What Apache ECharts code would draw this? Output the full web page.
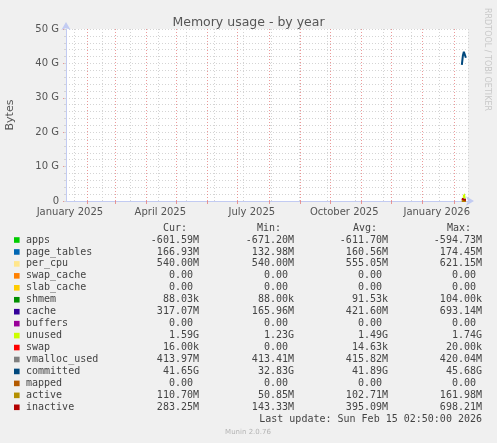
<!DOCTYPE html>
<html>
<head>
<meta charset="utf-8">
<script src="https://cdn.jsdelivr.net/npm/echarts@6.0.0/dist/echarts.min.js"></script>
<style>
  html, body { margin: 0; padding: 0; background: #f0f0f0; }
  #chart { width: 497px; height: 443px; }
</style>
</head>
<body>
<div id="chart"></div>
<script>
// days with data (the graph spans ~400 days, data only at the very end)
const dates = ['2026-02-09', '2026-02-10', '2026-02-11', '2026-02-12', '2026-02-13'];

// values in G
const apps = [null, -0.64, -0.61, -0.595, -0.60];
const pageTables = [null, 0.14, 0.17, 0.16, 0.167];
const perCpu = [null, 0.62, 0.54, 0.56, 0.54];
const swapCache = [null, 0, 0, 0, 0];
const slabCache = [null, 0, 0, 0, 0];
const shmem = [null, 0.0001, 0.0001, 0.00009, 0.00009];
const cache = [null, 0.30, 0.69, 0.40, 0.317];
const buffers = [null, 0, 0, 0, 0];
const unused = [null, 1.23, 1.30, 1.74, 1.59];
const swap = [null, 0, 0.00002, 0.00002, 0.000016];
const vmallocUsed = [0.413, 0.416, 0.418, 0.420, 0.414];
const committed = [39.6, 42.2, 43.4, 42.9, 41.65];
const mapped = [0, 0, 0, 0, 0];
const active = [0.16, 0.12, 0.08, 0.05, 0.11];
const inactive = [0.69, 0.55, 0.40, 0.14, 0.28];

// legend table
const names = ['apps', 'page_tables', 'per_cpu', 'swap_cache', 'slab_cache', 'shmem', 'cache', 'buffers',
  'unused', 'swap', 'vmalloc_used', 'committed', 'mapped', 'active', 'inactive'];
const colors = ['#00cc00', '#0066b3', '#ffe68c', '#ff8000', '#ffcc00', '#008f00', '#330099', '#990099',
  '#ccff00', '#ff0000', '#808080', '#00487d', '#b35a00', '#b38f00', '#b30000'];
const curText = ['-601.59M', '166.93M', '540.00M', '0.00', '0.00', '88.03k', '317.07M', '0.00',
  '1.59G', '16.00k', '413.97M', '41.65G', '0.00', '110.70M', '283.25M'];
const minText = ['-671.20M', '132.98M', '540.00M', '0.00', '0.00', '88.00k', '165.96M', '0.00',
  '1.23G', '0.00', '413.41M', '32.83G', '0.00', '50.85M', '143.33M'];
const avgText = ['-611.70M', '160.56M', '555.05M', '0.00', '0.00', '91.53k', '421.60M', '0.00',
  '1.49G', '14.63k', '415.82M', '41.89G', '0.00', '102.71M', '395.09M'];
const maxText = ['-594.73M', '174.45M', '621.15M', '0.00', '0.00', '104.00k', '693.14M', '0.00',
  '1.74G', '20.00k', '420.04M', '45.68G', '0.00', '161.98M', '698.21M'];

// x axis labels
const labelDates = ['2025-01-15', '2025-04-15', '2025-07-15', '2025-10-15', '2026-01-15'];
const labelText = ['January 2025', 'April 2025', 'July 2025', 'October 2025', 'January 2026'];

const areaData = [apps, pageTables, perCpu, swapCache, slabCache, shmem, cache, buffers, unused, swap];
const lineData = [vmallocUsed, committed, mapped, active, inactive];

const ts = s => Date.parse(s + 'T00:00:00Z');
const xMin = Date.parse('2025-01-11T02:50:00Z');
const xMax = Date.parse('2026-02-15T02:50:00Z');
const labelTs = labelDates.map(ts);

// grid lines: red at month starts, grey every 4 weeks
const monthStarts = [];
for (let m = 1; m <= 13; m++) monthStarts.push(Date.UTC(2025, m, 1));
const weekLines = [];
for (let t = ts('2025-01-19'); t < xMax; t += 28 * 86400000) weekLines.push(t);

const sans = '"DejaVu Sans", sans-serif';
const mono = '"DejaVu Sans Mono", monospace';
const textCol = '#555';
const majorCol = 'rgba(230, 120, 120, 0.75)';
const minorCol = '#d4d4d4';
const axisCol = '#c2cbf2';

const pairs = vals => dates.map((d, i) => [ts(d), vals[i]]);

// series sit on a hidden time axis (stacking works there) with the same range
const series = [];
areaData.forEach((vals, i) => {
  series.push({
    name: names[i],
    type: 'line',
    xAxisIndex: 2,
    stack: 'mem',
    stackStrategy: 'all',
    data: pairs(vals),
    showSymbol: false,
    lineStyle: { width: 0 },
    areaStyle: { color: colors[i], opacity: 1 },
    itemStyle: { color: colors[i] },
    z: 3
  });
});
lineData.forEach((vals, j) => {
  const i = areaData.length + j;
  series.push({
    name: names[i],
    type: 'line',
    xAxisIndex: 2,
    data: pairs(vals),
    showSymbol: false,
    lineStyle: { width: 2, color: colors[i] },
    itemStyle: { color: colors[i] },
    z: 4
  });
});

// legend table drawn as text
const graphic = [];
const rowY = i => 240 + i * 11.95;
const cell = (text, x, y, align) => ({
  type: 'text', x: x, y: y, silent: true,
  style: {
    text: text, fill: '#444', font: '10px ' + mono,
    textAlign: align, align: align, textVerticalAlign: 'middle', verticalAlign: 'middle'
  }
});
const withUnit = s => (/[kMG]$/.test(s) ? s : s + ' ');
['Cur:', 'Min:', 'Avg:', 'Max:'].forEach((h, k) => {
  graphic.push(cell(h, [163, 257, 353, 447][k], 228, 'left'));
});
names.forEach((n, i) => {
  const y = rowY(i);
  graphic.push({ type: 'rect', shape: { x: 14, y: y - 2.8, width: 5.6, height: 5.6 }, style: { fill: colors[i] }, silent: true });
  graphic.push(cell(n, 26, y, 'left'));
  graphic.push(cell(withUnit(curText[i]), 199, y, 'right'));
  graphic.push(cell(withUnit(minText[i]), 294, y, 'right'));
  graphic.push(cell(withUnit(avgText[i]), 388, y, 'right'));
  graphic.push(cell(withUnit(maxText[i]), 482, y, 'right'));
});
graphic.push(cell('Last update: Sun Feb 15 02:50:00 2026', 482, 419, 'right'));
graphic.push({
  type: 'text', x: 248, y: 432, silent: true,
  style: { text: 'Munin 2.0.76', fill: '#b4b4b4', font: '7px ' + sans, textAlign: 'center', align: 'center', textVerticalAlign: 'middle', verticalAlign: 'middle' }
});
graphic.push({
  type: 'text', x: 10, y: 115, rotation: Math.PI / 2, silent: true,
  style: { text: 'Bytes', fill: textCol, font: '11px ' + sans, textAlign: 'center', align: 'center', textVerticalAlign: 'middle', verticalAlign: 'middle' }
});
graphic.push({
  type: 'text', x: 487, y: 8, rotation: -Math.PI / 2, silent: true,
  style: { text: 'RRDTOOL / TOBI OETIKER', fill: '#c8c8c8', font: '8px ' + sans, textAlign: 'left', align: 'left', textVerticalAlign: 'middle', verticalAlign: 'middle' }
});

const myChart = echarts.init(document.getElementById('chart'), null, { renderer: 'canvas' });

const option = {
  backgroundColor: '#f0f0f0',
  animation: false,
  title: {
    text: 'Memory usage - by year',
    left: 'center',
    top: 11,
    textStyle: { fontFamily: sans, fontSize: 12.5, fontWeight: 'normal', color: textCol }
  },
  grid: {
    left: 66, right: 29, top: 29, bottom: 242,
    show: true, backgroundColor: '#ffffff', borderWidth: 0,
    containLabel: false, outerBoundsMode: 'none'
  },
  xAxis: [
    {
      // minor grid, every 4 weeks
      type: 'value', min: xMin, max: xMax, position: 'bottom',
      axisLine: { show: false },
      axisLabel: { show: false },
      axisTick: { show: false, customValues: weekLines },
      splitLine: { show: true, lineStyle: { color: minorCol, type: [1, 2], width: 1 } }
    },
    {
      // month grid + labels
      type: 'value', min: xMin, max: xMax, position: 'bottom', offset: 0,
      axisLine: {
        show: true, onZero: false,
        lineStyle: { color: axisCol, width: 1 },
        symbol: ['none', 'arrow'], symbolSize: [7, 8], symbolOffset: [0, 6]
      },
      axisTick: { show: true, length: 3, inside: false, customValues: monthStarts, lineStyle: { color: majorCol } },
      splitLine: { show: true, lineStyle: { color: majorCol, type: [1, 2], width: 1 } },
      axisLabel: {
        show: true, margin: 6,
        customValues: labelTs,
        formatter: v => labelText[labelTs.indexOf(v)] || '',
        color: textCol, fontFamily: sans, fontSize: 10,
        hideOverlap: false
      }
    },
    {
      // data axis
      type: 'time', min: xMin, max: xMax, position: 'bottom', show: false
    }
  ],
  yAxis: [
    {
      type: 'value', min: 0, max: 50, interval: 10,
      axisLine: {
        show: true, onZero: false,
        lineStyle: { color: axisCol, width: 1 },
        symbol: ['none', 'arrow'], symbolSize: [7, 8], symbolOffset: [0, 7]
      },
      axisTick: { show: true, length: 3, lineStyle: { color: majorCol } },
      splitLine: { show: true, lineStyle: { color: majorCol, type: [1, 2], width: 1 } },
      axisLabel: {
        margin: 7, color: textCol, fontFamily: sans, fontSize: 10,
        formatter: v => (v === 0 ? '0' : v + ' G')
      }
    },
    {
      type: 'value', min: 0, max: 50, interval: 2, position: 'left',
      axisLine: { show: false },
      axisLabel: { show: false },
      axisTick: { show: true, length: 2, lineStyle: { color: minorCol } },
      splitLine: { show: true, lineStyle: { color: minorCol, type: [1, 2], width: 1 } },
      z: 0
    }
  ],
  series: series,
  graphic: graphic
};

myChart.setOption(option);

window.addEventListener('resize', myChart.resize);
</script>
</body>
</html>
